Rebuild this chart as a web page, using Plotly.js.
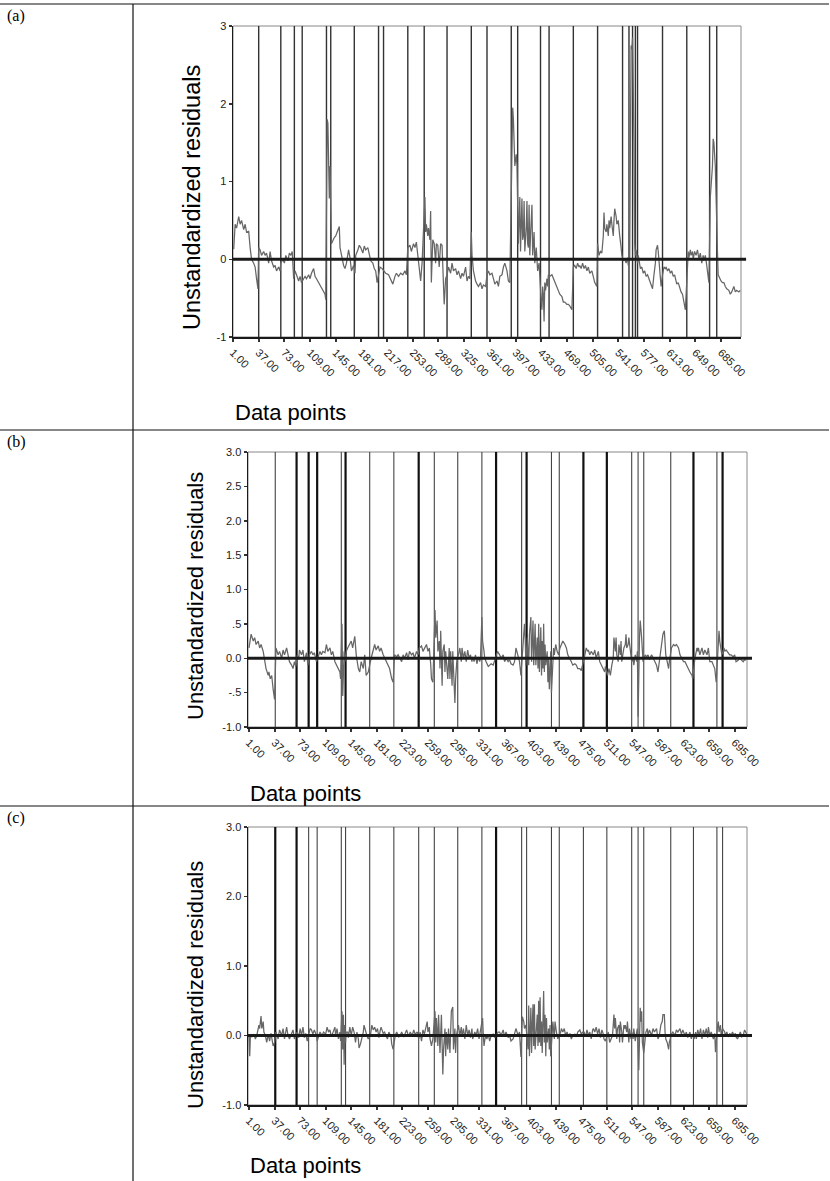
<!DOCTYPE html>
<html><head><meta charset="utf-8">
<script src="https://cdn.plot.ly/plotly-3.0.1.min.js"></script>
<style>html,body{margin:0;padding:0;background:#fff}#chart{width:830px;height:1181px}</style>
</head><body><div id="chart"></div><script>
// ---------- DATA ----------
// panel (a): [data point, residual]
const seriesA = [[2,0.13],[4,0.45],[6,0.40],[9,0.55],[11,0.45],[13,0.50],[16,0.38],[18,0.45],[20,0.35],[23,0.36],[25,0.15],[27,0.0],[30,-0.05],[32,-0.10],[34,-0.25],[36,-0.38],[37,0.15],[39,0.12],[41,0.05],[44,0.10],[46,0.05],[48,0.08],[51,-0.05],[53,0.10],[55,-0.02],[58,-0.10],[60,-0.08],[62,-0.15],[65,-0.10],[67,-0.15],[68,-0.05],[71,0.0],[73,-0.05],[75,0.05],[78,-0.02],[80,0.08],[82,0.05],[84,0.10],[86,-0.25],[88,-0.15],[90,-0.20],[93,-0.28],[95,-0.22],[97,-0.30],[100,-0.25],[102,-0.22],[104,-0.25],[107,-0.20],[109,-0.25],[111,-0.18],[114,-0.12],[116,-0.22],[118,-0.25],[121,-0.30],[123,-0.35],[125,-0.38],[128,-0.42],[130,-0.45],[131,-0.52],[132,1.05],[133,1.80],[134,1.75],[135,1.30],[136,0.78],[137,1.20],[138,0.78],[139,0.20],[143,0.28],[145,0.30],[147,0.35],[150,0.42],[151,0.15],[153,0.05],[156,-0.08],[158,-0.12],[160,-0.05],[163,0.12],[165,0.02],[167,-0.15],[170,-0.08],[172,-0.18],[173,0.05],[176,0.12],[178,0.18],[180,0.15],[183,0.08],[185,0.17],[187,0.12],[190,0.15],[192,0.05],[194,-0.02],[197,-0.05],[199,-0.12],[201,-0.15],[203,-0.30],[205,-0.20],[207,-0.10],[210,-0.12],[213,-0.15],[215,-0.18],[219,-0.20],[222,-0.25],[225,-0.32],[228,-0.22],[230,-0.18],[233,-0.22],[236,-0.18],[239,-0.20],[242,-0.15],[244,-0.20],[246,0.15],[249,0.18],[251,0.10],[254,0.20],[256,0.15],[258,0.22],[260,0.05],[262,-0.15],[264,-0.28],[266,-0.05],[268,0.30],[270,0.80],[271,0.35],[272,0.45],[274,0.30],[275,0.40],[277,0.25],[278,0.62],[279,-0.30],[281,0.25],[283,0.20],[285,-0.05],[286,0.20],[288,0.18],[290,-0.10],[292,0.20],[294,0.18],[296,-0.35],[297,-0.58],[299,-0.25],[301,-0.20],[303,-0.10],[306,-0.18],[308,-0.05],[310,-0.15],[313,-0.12],[315,-0.20],[317,-0.15],[320,-0.25],[322,-0.18],[324,-0.22],[327,-0.10],[329,-0.28],[331,-0.22],[333,-0.25],[335,0.35],[336,0.05],[338,-0.15],[341,-0.28],[343,-0.32],[345,-0.35],[348,-0.30],[350,-0.38],[352,-0.33],[355,-0.35],[357,-0.20],[359,-0.15],[361,-0.20],[364,-0.18],[366,-0.25],[368,-0.32],[371,-0.28],[373,-0.35],[375,-0.22],[378,-0.20],[380,-0.10],[382,-0.05],[385,-0.15],[387,-0.28],[389,-0.30],[391,0.95],[392,1.55],[393,1.95],[394,1.80],[395,1.40],[396,1.20],[398,1.35],[399,1.20],[401,0.20],[402,0.50],[403,0.80],[404,0.10],[405,0.45],[406,0.78],[407,0.25],[408,0.30],[409,0.75],[410,0.10],[412,0.40],[413,0.75],[414,0.20],[415,0.15],[416,0.70],[417,0.05],[418,0.30],[420,0.70],[421,0.05],[422,0.20],[423,0.35],[424,-0.05],[426,0.15],[427,0.0],[428,-0.15],[430,-0.05],[431,-0.30],[433,-0.55],[434,-0.65],[435,-0.35],[436,-0.45],[437,-0.80],[438,-0.30],[439,-0.40],[441,-0.25],[442,-0.35],[443,-0.20],[445,-0.22],[448,-0.20],[450,-0.25],[452,-0.28],[455,-0.35],[457,-0.40],[459,-0.45],[462,-0.48],[464,-0.55],[466,-0.55],[469,-0.58],[471,-0.58],[473,-0.60],[476,-0.65],[478,-0.10],[480,-0.08],[482,-0.12],[484,-0.05],[486,-0.10],[487,-0.08],[489,-0.12],[491,-0.05],[493,-0.12],[495,-0.08],[497,-0.15],[499,-0.10],[501,-0.18],[504,-0.15],[506,-0.22],[508,-0.30],[511,-0.35],[512,0.20],[514,0.05],[516,0.10],[518,0.08],[520,0.30],[521,0.60],[522,0.40],[524,0.35],[525,0.45],[527,0.30],[528,0.50],[529,0.40],[531,0.55],[532,0.45],[534,0.30],[535,0.50],[536,0.65],[538,0.55],[539,0.45],[541,0.50],[542,0.35],[543,0.30],[545,0.15],[546,0.05],[548,-0.02],[550,0.0],[552,-0.05],[554,0.02],[555,-0.08],[557,0.0],[558,1.50],[559,2.75],[560,2.70],[561,2.85],[562,2.20],[563,1.50],[564,0.20],[565,0.05],[566,0.12],[568,-0.05],[569,0.05],[571,-0.08],[572,-0.12],[574,-0.10],[576,-0.18],[578,-0.15],[580,-0.22],[582,-0.20],[584,-0.25],[586,-0.28],[587,-0.32],[589,-0.38],[591,-0.20],[593,-0.05],[594,0.12],[596,0.18],[597,0.10],[599,-0.10],[600,-0.15],[601,-0.35],[603,-0.20],[605,-0.10],[607,-0.12],[608,-0.10],[610,-0.15],[612,-0.12],[614,-0.18],[616,-0.15],[618,-0.22],[620,-0.20],[622,-0.28],[623,-0.32],[625,-0.30],[627,-0.38],[629,-0.42],[631,-0.45],[633,-0.55],[635,-0.65],[638,-0.10],[639,0.10],[640,0.02],[642,0.12],[643,0.05],[645,0.10],[646,0.0],[648,0.10],[650,0.05],[652,0.12],[654,0.0],[656,0.08],[658,-0.05],[660,0.05],[661,-0.02],[663,0.05],[665,-0.08],[667,-0.25],[668,-0.30],[670,0.80],[671,0.90],[673,1.20],[674,1.55],[675,1.50],[677,1.20],[678,0.70],[680,0.10],[681,-0.20],[683,-0.25],[685,-0.28],[687,-0.30],[689,-0.30],[691,-0.35],[693,-0.38],[696,-0.40],[698,-0.45],[700,-0.42],[703,-0.35],[705,-0.42],[707,-0.40],[710,-0.42],[712,-0.40]];
const breaksA = [37,68,87,98,132,138,171,205,212,246,269,301,335,357,391,400,432,444,478,512,547,556,561,565,568,603,637,669,679];
const ticksA = [1,37,73,109,145,181,217,253,289,325,361,397,433,469,505,541,577,613,649,685];
const tickTextA = ticksA.map(v => v.toFixed(2));

// panels (b) and (c): [case position, residual]
const seriesB = [[0,0.15],[3,0.35],[6,0.25],[8,0.30],[10,0.20],[13,0.25],[15,0.15],[17,0.20],[20,0.10],[22,-0.05],[24,-0.15],[27,-0.25],[28,-0.20],[30,-0.30],[32,-0.25],[34,-0.45],[36,-0.60],[38,0.15],[41,0.05],[43,0.10],[46,0.0],[48,0.12],[50,0.05],[53,0.15],[55,0.05],[57,-0.05],[60,-0.10],[62,-0.15],[64,-0.05],[66,-0.12],[68,0.05],[70,-0.02],[71,0.12],[74,0.05],[76,0.12],[78,-0.05],[81,0.08],[83,-0.10],[85,0.05],[88,0.10],[90,0.05],[92,0.08],[95,-0.05],[98,0.05],[100,0.10],[102,0.05],[104,0.10],[107,0.08],[109,0.20],[111,0.10],[114,0.15],[116,0.05],[118,0.10],[121,-0.05],[123,-0.10],[125,-0.15],[128,-0.20],[129,-0.30],[131,0.50],[132,-0.55],[134,0.10],[135,-0.05],[137,0.10],[139,0.15],[142,0.20],[144,0.25],[146,0.15],[149,0.32],[151,0.05],[154,-0.15],[156,-0.20],[158,-0.05],[161,-0.15],[163,0.05],[165,-0.25],[168,-0.20],[172,0.0],[175,0.10],[177,0.20],[179,0.12],[182,0.18],[184,0.10],[186,0.15],[189,0.05],[191,0.0],[193,-0.05],[196,-0.10],[198,-0.15],[201,-0.30],[203,-0.35],[205,0.05],[208,0.02],[210,0.05],[212,0.0],[215,-0.05],[217,0.05],[219,0.0],[222,0.08],[224,-0.02],[226,0.10],[229,0.05],[231,0.08],[233,0.0],[236,0.10],[238,0.05],[240,0.15],[243,0.18],[245,0.10],[247,0.15],[250,0.20],[252,0.10],[254,0.15],[256,-0.10],[257,-0.30],[259,-0.35],[260,0.05],[262,0.70],[263,0.30],[265,0.55],[266,0.10],[268,0.25],[269,-0.15],[270,0.40],[272,-0.40],[273,0.10],[275,0.20],[276,-0.20],[277,0.10],[279,-0.25],[280,-0.30],[282,0.15],[283,-0.30],[284,0.10],[286,-0.40],[287,0.10],[289,-0.35],[290,-0.65],[291,-0.30],[293,0.0],[295,0.05],[297,0.15],[299,-0.05],[300,0.15],[302,0.0],[304,0.10],[306,-0.05],[308,0.12],[310,0.0],[312,0.05],[314,-0.05],[315,0.02],[317,-0.05],[319,0.05],[321,-0.08],[323,0.02],[325,-0.05],[326,0.0],[328,0.60],[329,0.25],[331,0.10],[332,0.0],[334,-0.05],[337,-0.12],[339,-0.10],[341,-0.08],[344,-0.10],[346,-0.02],[347,0.0],[350,0.10],[353,0.05],[355,0.0],[358,0.05],[360,-0.05],[362,0.0],[365,-0.05],[367,-0.02],[369,-0.08],[372,-0.10],[374,-0.05],[376,0.15],[379,0.0],[381,-0.05],[383,-0.25],[386,0.20],[388,0.50],[389,0.30],[390,-0.10],[392,0.30],[394,-0.10],[395,0.35],[397,0.60],[398,-0.05],[399,0.20],[400,0.55],[401,-0.10],[402,0.35],[403,0.50],[404,-0.10],[406,0.30],[407,-0.15],[408,0.50],[409,-0.20],[410,0.15],[411,0.45],[412,-0.25],[413,0.25],[414,-0.15],[415,0.50],[416,-0.20],[417,0.20],[418,-0.10],[420,0.10],[421,-0.35],[422,0.0],[423,-0.45],[425,0.10],[426,-0.50],[428,0.10],[429,0.15],[430,0.05],[432,0.20],[434,0.10],[436,0.05],[438,0.15],[440,0.20],[442,0.25],[445,0.20],[447,0.15],[449,0.05],[452,0.0],[454,-0.05],[456,-0.10],[459,-0.08],[461,-0.10],[463,-0.15],[466,-0.15],[468,-0.18],[473,0.05],[475,0.15],[477,0.10],[478,0.12],[480,0.05],[482,0.10],[485,0.05],[487,0.12],[489,0.0],[492,0.10],[494,-0.05],[496,-0.10],[499,-0.15],[501,-0.20],[502,-0.12],[505,-0.25],[507,-0.15],[509,-0.25],[511,-0.10],[513,0.0],[514,0.30],[516,0.10],[517,0.30],[518,0.05],[520,-0.05],[521,0.20],[523,0.05],[524,0.25],[525,-0.05],[527,0.10],[528,0.15],[530,0.20],[531,0.35],[532,0.15],[534,0.20],[535,0.30],[537,0.10],[538,0.10],[539,-0.05],[541,0.0],[542,-0.10],[544,0.05],[546,-0.05],[547,0.10],[548,-0.85],[550,0.30],[551,0.55],[553,0.30],[554,0.0],[555,-0.05],[558,0.05],[560,0.02],[562,0.05],[564,-0.02],[567,0.05],[569,0.0],[571,-0.05],[574,-0.10],[576,-0.20],[578,-0.05],[581,0.15],[583,0.35],[585,0.40],[586,0.10],[587,0.05],[589,-0.05],[591,-0.15],[592,-0.05],[595,0.15],[598,0.20],[600,0.18],[602,0.20],[605,0.15],[607,0.05],[609,0.0],[612,-0.05],[614,-0.05],[616,-0.10],[619,-0.15],[621,-0.20],[624,-0.25],[625,-0.30],[628,0.0],[631,0.15],[632,0.10],[633,0.15],[635,0.05],[638,0.15],[640,0.05],[642,0.12],[645,0.05],[647,0.15],[649,-0.05],[652,-0.05],[654,-0.10],[656,-0.15],[658,-0.35],[659,-0.15],[661,0.10],[662,0.40],[663,0.25],[665,0.10],[666,0.05],[669,0.15],[670,0.10],[672,0.12],[675,0.08],[677,0.05],[679,0.05],[682,0.02],[684,0.05],[686,-0.05],[689,-0.03],[691,0.0],[693,-0.02],[696,-0.05],[698,-0.02],[700,-0.03]];
const seriesC = [[0,0.0],[1,-0.30],[2,0.0],[4,-0.02],[7,0.02],[9,-0.05],[11,0.0],[14,0.15],[15,0.10],[17,0.28],[18,0.10],[20,0.20],[21,0.05],[23,0.0],[25,-0.10],[27,0.02],[29,-0.08],[31,0.03],[34,-0.15],[36,-0.10],[38,0.05],[41,-0.05],[43,0.08],[46,0.0],[48,0.10],[50,-0.05],[53,0.12],[55,0.0],[57,-0.05],[60,0.05],[62,0.08],[64,-0.05],[66,0.02],[68,0.05],[70,-0.03],[72,0.10],[74,0.0],[76,0.12],[78,-0.03],[80,0.03],[82,-0.08],[85,0.05],[86,0.10],[88,0.08],[90,0.02],[92,0.08],[95,0.0],[96,-0.08],[99,0.0],[100,0.05],[103,0.0],[105,0.05],[108,0.02],[110,0.12],[112,0.05],[114,0.08],[116,-0.02],[118,0.05],[121,0.12],[122,0.0],[124,0.10],[126,-0.05],[128,0.05],[129,-0.08],[131,0.35],[132,-0.20],[133,0.30],[134,-0.42],[135,0.15],[136,-0.10],[137,0.05],[139,0.05],[140,-0.03],[142,0.12],[144,0.0],[146,0.12],[148,0.05],[150,-0.10],[152,0.05],[154,-0.05],[155,-0.18],[157,-0.12],[159,-0.05],[161,0.05],[162,0.15],[164,0.05],[166,0.0],[168,-0.05],[171,0.0],[173,0.15],[175,0.08],[177,0.12],[179,0.05],[181,0.10],[183,-0.03],[185,0.08],[186,0.12],[189,0.03],[191,0.05],[192,0.02],[195,-0.05],[197,0.05],[200,-0.02],[201,-0.12],[203,-0.20],[206,0.0],[208,0.05],[211,-0.02],[213,0.0],[215,0.05],[218,-0.02],[220,0.03],[222,0.08],[225,-0.02],[227,0.05],[230,0.0],[232,0.08],[234,0.02],[237,0.05],[239,-0.05],[241,0.05],[243,-0.08],[245,0.08],[247,0.02],[249,0.10],[251,0.20],[252,0.05],[254,0.12],[255,-0.05],[257,-0.15],[259,-0.05],[260,0.10],[262,0.35],[263,-0.10],[264,0.25],[266,-0.15],[267,0.30],[269,-0.25],[270,0.15],[271,0.30],[273,-0.56],[274,-0.20],[276,0.10],[277,-0.30],[278,0.05],[280,-0.20],[281,0.10],[283,-0.25],[284,0.05],[285,0.35],[287,0.41],[288,-0.20],[290,0.10],[291,-0.25],[292,0.0],[295,0.15],[297,0.0],[299,0.12],[300,-0.02],[302,0.10],[304,-0.05],[306,0.15],[308,0.0],[310,0.08],[312,-0.03],[314,0.10],[315,-0.05],[318,0.05],[320,0.0],[322,0.10],[324,-0.05],[326,0.05],[329,0.25],[330,0.0],[331,-0.15],[333,0.0],[335,-0.05],[337,0.02],[339,-0.08],[341,0.0],[344,0.02],[346,-0.03],[351,0.05],[353,0.05],[355,0.0],[358,0.08],[360,-0.02],[362,0.05],[365,-0.03],[367,0.0],[369,-0.08],[372,-0.05],[374,0.05],[376,0.10],[379,0.0],[381,0.05],[383,-0.31],[385,0.27],[387,0.20],[388,0.10],[390,0.15],[391,0.05],[393,-0.20],[394,0.43],[395,-0.30],[397,0.40],[398,-0.25],[399,0.15],[400,0.45],[401,-0.15],[402,0.45],[403,-0.20],[405,0.20],[406,0.30],[407,-0.15],[408,0.50],[409,-0.10],[410,0.55],[411,-0.15],[412,0.20],[413,-0.25],[415,0.64],[416,-0.10],[417,0.30],[418,-0.30],[419,0.25],[420,-0.10],[422,0.10],[423,-0.20],[424,0.15],[425,-0.30],[427,0.15],[428,0.20],[430,-0.05],[431,0.20],[433,0.05],[435,-0.05],[439,0.05],[440,0.10],[442,0.05],[444,0.10],[446,0.0],[448,0.05],[450,-0.02],[452,0.03],[454,-0.05],[456,0.0],[459,0.02],[461,-0.02],[463,0.05],[466,0.08],[468,0.02],[470,0.05],[472,0.05],[474,-0.02],[476,0.08],[478,0.0],[480,0.05],[482,-0.05],[484,0.08],[485,0.10],[487,0.05],[489,0.12],[491,0.02],[493,0.10],[495,-0.03],[497,0.08],[499,0.02],[500,-0.05],[502,-0.08],[504,-0.02],[506,0.05],[508,-0.10],[510,-0.05],[512,0.0],[514,0.30],[515,0.10],[516,0.25],[518,-0.05],[519,0.10],[521,0.15],[522,-0.10],[523,0.20],[525,0.05],[526,-0.10],[528,0.15],[529,0.10],[530,0.15],[532,0.05],[533,0.20],[535,-0.10],[536,0.10],[538,-0.05],[539,0.05],[541,-0.05],[542,0.10],[544,-0.08],[546,0.05],[547,0.10],[549,-0.50],[550,0.15],[551,0.40],[552,0.20],[553,0.35],[554,-0.10],[556,-0.25],[559,0.05],[561,0.10],[562,0.0],[564,0.08],[567,0.0],[569,0.10],[571,0.05],[574,0.10],[576,-0.05],[578,0.0],[580,0.15],[582,0.20],[583,0.30],[585,0.30],[586,0.05],[587,-0.05],[589,-0.10],[591,-0.20],[592,-0.10],[595,0.02],[597,0.05],[600,0.0],[602,0.08],[604,0.05],[607,0.10],[609,0.02],[611,0.08],[614,0.0],[616,0.05],[618,-0.03],[621,0.05],[623,-0.05],[624,0.02],[627,-0.05],[629,0.05],[630,-0.05],[632,0.08],[634,0.0],[636,0.10],[638,-0.05],[640,0.08],[642,0.0],[644,0.10],[646,-0.03],[647,0.12],[649,0.0],[651,0.05],[654,-0.05],[656,0.03],[657,-0.24],[660,0.15],[661,0.20],[662,0.05],[664,0.15],[665,0.0],[667,0.10],[670,0.05],[671,0.0],[673,0.05],[675,-0.02],[677,0.03],[679,0.0],[681,0.05],[683,0.0],[685,0.03],[686,-0.02],[688,-0.05],[690,0.0],[692,0.05],[694,-0.02],[696,0.0],[698,0.08],[700,0.05],[701,0.02]];
const breaksBC = [37,67,84,96,130,136,170,204,239,261,294,328,348,384,391,426,437,471,504,539,548,556,594,626,659,667];
const heavyA = [];
const heavyB = [67,84,96,136,239,348,391,471,504,626,667];
const heavyC = [37,67,348];
const ticksBC = [0,36,72,108,144,180,216,252,288,324,360,396,432,468,504,540,576,612,648,684];
const tickTextBC = ["1.00","37.00","73.00","109.00","145.00","181.00","223.00","259.00","295.00","331.00","367.00","403.00","439.00","475.00","511.00","547.00","587.00","623.00","659.00","695.00"];
const yTicksA = [-1,0,1,2,3], yTextA = ["-1","0","1","2","3"];
const yTicksB = [-1,-0.5,0,0.5,1,1.5,2,2.5,3], yTextB = ["-1.0","-.5","0.0",".5","1.0","1.5","2.0","2.5","3.0"];
const yTicksC = [-1,0,1,2,3], yTextC = ["-1.0","0.0","1.0","2.0","3.0"];
const panelLabels = ["(a)","(b)","(c)"];
const yTitle = "Unstandardized residuals", xTitle = "Data points";

// ---------- LAYOUT ----------
const W = 830, H = 1181;
const fx = v => v / W, fy = v => 1 - v / H;
const SANS = "Liberation Sans, Arial, Helvetica, sans-serif";
const SERIF = "Liberation Serif, Times New Roman, serif";

function xAxis(dom, range, tv, tt) {
  return {domain: dom, range: range, tickmode: 'array', tickvals: tv, ticktext: tt, tickangle: 45,
    ticks: 'outside', ticklen: 3, tickwidth: 2, tickcolor: '#333', showline: true, linecolor: '#1a1a1a',
    linewidth: 2, showgrid: false, zeroline: false, tickfont: {family: SANS, size: 11, color: '#222'}, fixedrange: true};
}
function yAxis(dom, tv, tt) {
  return {domain: dom, range: [-1, 3], tickmode: 'array', tickvals: tv, ticktext: tt,
    ticks: 'outside', ticklen: 3, tickwidth: 1.5, tickcolor: '#333', showline: true, linecolor: '#1a1a1a',
    linewidth: 1.5, showgrid: false, zeroline: false, tickfont: {family: SANS, size: 11, color: '#222'}, fixedrange: true};
}

const panels = [
  {s: seriesA, xa: 'x', ya: 'y', xd: [fx(233), fx(741)], yd: [fy(337), fy(26)], range: [1, 713], tv: ticksA, tt: tickTextA,
   ytv: yTicksA, ytt: yTextA, breaks: breaksA, heavy: heavyA, lw: 1.4, lc: '#333'},
  {s: seriesB, xa: 'x2', ya: 'y2', xd: [fx(248), fx(747)], yd: [fy(727), fy(452)], range: [-1.4, 701.4], tv: ticksBC, tt: tickTextBC,
   ytv: yTicksB, ytt: yTextB, breaks: breaksBC, heavy: heavyB, lw: 1.1, lc: '#444'},
  {s: seriesC, xa: 'x3', ya: 'y3', xd: [fx(248), fx(747)], yd: [fy(1105), fy(827)], range: [-1.4, 701.4], tv: ticksBC, tt: tickTextBC,
   ytv: yTicksC, ytt: yTextC, breaks: breaksBC, heavy: heavyC, lw: 1.1, lc: '#444'}
];

const traces = [], shapes = [], annotations = [];
const layout = {width: W, height: H, margin: {l: 0, r: 0, t: 0, b: 0}, showlegend: false,
  paper_bgcolor: '#fff', plot_bgcolor: '#fff', font: {family: SANS, color: '#111'}};

panels.forEach((p, i) => {
  const xk = 'xaxis' + (i ? i + 1 : ''), yk = 'yaxis' + (i ? i + 1 : '');
  layout[xk] = Object.assign(xAxis(p.xd, p.range, p.tv, p.tt), {anchor: p.ya});
  layout[yk] = Object.assign(yAxis(p.yd, p.ytv, p.ytt), {anchor: p.xa});
  traces.push({x: p.s.map(d => d[0]), y: p.s.map(d => d[1]), xaxis: p.xa, yaxis: p.ya, type: 'scatter', mode: 'lines',
    line: {color: '#666', width: 1.25}, hoverinfo: 'skip'});
  shapes.push({type: 'rect', xref: p.xa + ' domain', yref: p.ya + ' domain', x0: 0, x1: 1, y0: 0, y1: 1,
    line: {color: '#888', width: 1}, layer: 'below'});
  p.breaks.forEach(v => {
    const hv = p.heavy.includes(v);
    shapes.push({type: 'line', xref: p.xa, yref: p.ya + ' domain', x0: v, x1: v, y0: 0, y1: 1,
      line: {color: hv ? '#111' : p.lc, width: hv ? 2.2 : p.lw}, layer: 'below'});
  });
  shapes.push({type: 'line', xref: p.xa + ' domain', yref: p.ya, x0: 0, x1: 1.01, y0: 0, y1: 0,
    line: {color: '#1a1a1a', width: 3}, layer: 'above'});
});

const tline = (x0, y0, x1, y1) => ({type: 'line', xref: 'paper', yref: 'paper', x0: x0, y0: y0, x1: x1, y1: y1,
  line: {color: '#111', width: 1.2}, layer: 'above'});
shapes.push(tline(0, fy(4), fx(829), fy(4)));
shapes.push(tline(0, fy(430), fx(829), fy(430)));
shapes.push(tline(0, fy(806), fx(829), fy(806)));
shapes.push(tline(fx(133), fy(4), fx(133), 0));
layout.shapes = shapes;

[16, 442, 818].forEach((yy, i) => annotations.push({text: panelLabels[i], xref: 'paper', yref: 'paper', x: fx(5), y: fy(yy),
  xanchor: 'left', yanchor: 'middle', showarrow: false, font: {family: SERIF, size: 16, color: '#000'}}));
[[192, 198, 23.5], [195, 596, 22], [195, 985, 22]].forEach(a => annotations.push({text: yTitle, xref: 'paper', yref: 'paper',
  x: fx(a[0]), y: fy(a[1]), textangle: -90, xanchor: 'center', yanchor: 'middle', showarrow: false,
  font: {family: SANS, size: a[2], color: '#000'}}));
[[233, 412], [248, 794], [248, 1165]].forEach(a => annotations.push({text: xTitle, xref: 'paper', yref: 'paper',
  x: fx(a[0]), y: fy(a[1]), xanchor: 'left', yanchor: 'middle', showarrow: false,
  font: {family: SANS, size: 22, color: '#000'}}));
layout.annotations = annotations;

Plotly.newPlot('chart', traces, layout, {displayModeBar: false, staticPlot: true});
</script></body></html>
